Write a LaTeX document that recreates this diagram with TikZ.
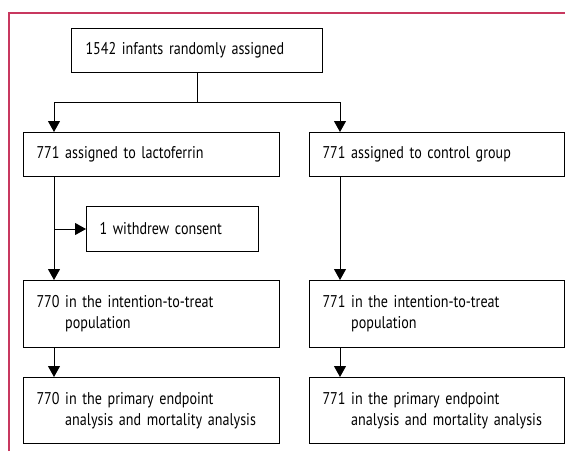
\documentclass[tikz,border=0pt]{standalone}
\usepackage{fontspec}
\setmainfont{PT Sans}[FakeStretch=0.83]
\usetikzlibrary{arrows.meta}
\definecolor{framered}{RGB}{200,56,95}

\tikzset{
  box/.style={draw, line width=1pt, anchor=north west, inner xsep=13pt, inner ysep=0pt,
    align=left, font=\fontsize{17}{21}\selectfont},
  line/.style={line width=1pt},
  arr/.style={line width=1pt, -{Triangle[width=12pt,length=11pt]}}
}

\begin{document}
\begin{tikzpicture}[x=1pt, y=-1pt]
			%%%%% START %%%%%
			\useasboundingbox (0,0) rectangle (565,451);
			
			% frame corner
			\draw[framered, line width=1.3pt] (9,451) -- (9,13) -- (565,13);
			
			% boxes
			\node[box, inner xsep=14pt, minimum width=251pt, minimum height=44pt, text width=223pt] (rand) at (71,28) {1542 infants randomly assigned};
			
			\node[box, minimum width=256pt, minimum height=44pt, text width=230pt] (lact) at (23,132) {771 assigned to lactoferrin};
			\node[box, minimum width=255pt, minimum height=44pt, text width=229pt] (ctrl) at (309,132) {771 assigned to control group};
			
			\node[box, minimum width=172pt, minimum height=45pt, text width=146pt] (wd) at (86,206) {1 withdrew consent};
			
			\node[box, minimum width=256pt, minimum height=67pt, text width=230pt] (itta) at (23,280) {770 in the intention-to-treat\\\hphantom{770}\ population};
			\node[box, minimum width=255pt, minimum height=67pt, text width=229pt] (ittb) at (309,280) {771 in the intention-to-treat\\\hphantom{771}\ population};
			
			\node[box, minimum width=256pt, minimum height=66pt, text width=230pt] (ana) at (23,377) {770 in the primary endpoint\\\hphantom{770}\ analysis and mortality analysis};
			\node[box, minimum width=255pt, minimum height=66pt, text width=229pt] (anb) at (309,377) {771 in the primary endpoint\\\hphantom{771}\ analysis and mortality analysis};
			
			% connectors
			\coordinate (lx) at (54,0);
			\coordinate (rx) at (340,0);
			\coordinate (split) at (197,102);
			
			\draw[line] (rand.south) -- (split);
			\draw[arr] (split) -| (lx |- lact.north);
			\draw[arr] (split) -| (rx |- ctrl.north);
			
			\draw[arr] (lx |- lact.south) -- (lx |- itta.north);
			\draw[arr] (lx |- wd.west) -- (wd.west);
			\draw[arr] (rx |- ctrl.south) -- (rx |- ittb.north);
			
			\draw[arr] (lx |- itta.south) -- (lx |- ana.north);
			\draw[arr] (rx |- ittb.south) -- (rx |- anb.north);
			
			%%%%% END %%%%%
		\end{tikzpicture}
\end{document}
